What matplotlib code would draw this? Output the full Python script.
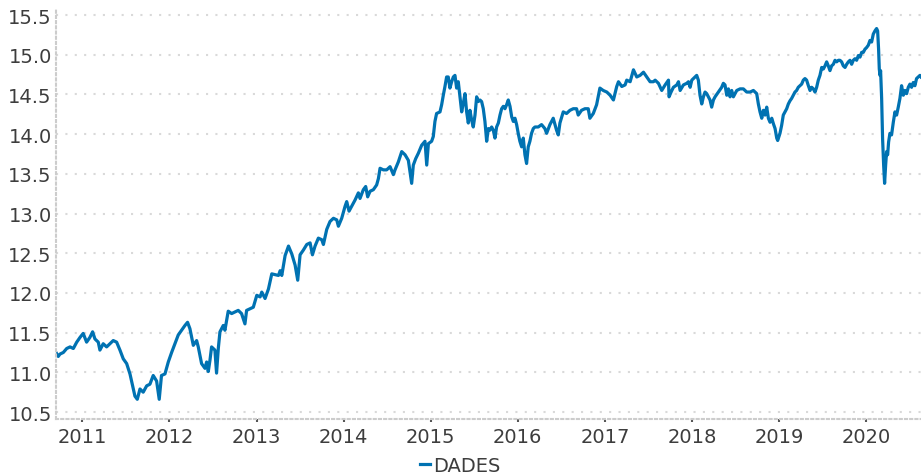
import numpy as np
import pandas as pd
import matplotlib
matplotlib.use("Agg")
import matplotlib.pyplot as plt
import matplotlib.dates as mdates

# decimal-year positions and values, one pair of lists per year
t_2010 = [2010.698, 2010.724, 2010.744, 2010.782, 2010.821, 2010.859, 2010.897, 2010.936, 2010.974]
v_2010 = [11.25, 11.20, 11.23, 11.25, 11.30, 11.32, 11.30, 11.38, 11.44]

t_2011 = [2011.011, 2011.05, 2011.088, 2011.119, 2011.146, 2011.184, 2011.203, 2011.241, 2011.28, 2011.318,
          2011.356, 2011.395, 2011.433, 2011.471, 2011.51, 2011.548, 2011.586, 2011.605, 2011.632, 2011.663,
          2011.70, 2011.74, 2011.777, 2011.815, 2011.854, 2011.884, 2011.91, 2011.95, 2011.988]
v_2011 = [11.49, 11.38, 11.44, 11.51, 11.42, 11.38, 11.28, 11.36, 11.32, 11.36,
          11.40, 11.38, 11.28, 11.17, 11.11, 10.98, 10.79, 10.70, 10.66, 10.79,
          10.75, 10.83, 10.85, 10.96, 10.89, 10.66, 10.96, 10.98, 11.13]

t_2012 = [2012.027, 2012.065, 2012.103, 2012.142, 2012.18, 2012.21, 2012.237, 2012.256, 2012.276, 2012.314,
          2012.333, 2012.371, 2012.41, 2012.429, 2012.448, 2012.467, 2012.486, 2012.524, 2012.543, 2012.563,
          2012.582, 2012.62, 2012.639, 2012.677, 2012.716, 2012.754, 2012.792, 2012.83, 2012.869, 2012.888,
          2012.926, 2012.965]
v_2012 = [11.25, 11.36, 11.47, 11.53, 11.59, 11.63, 11.55, 11.45, 11.34, 11.40,
          11.32, 11.11, 11.05, 11.13, 11.01, 11.15, 11.32, 11.28, 10.99, 11.30,
          11.51, 11.59, 11.53, 11.77, 11.74, 11.76, 11.78, 11.74, 11.61, 11.78,
          11.80, 11.82]

t_2013 = [2013.003, 2013.041, 2013.06, 2013.098, 2013.137, 2013.175, 2013.213, 2013.252, 2013.271, 2013.29,
          2013.328, 2013.367, 2013.405, 2013.443, 2013.473, 2013.50, 2013.538, 2013.577, 2013.615, 2013.642,
          2013.672, 2013.71, 2013.749, 2013.768, 2013.806, 2013.844, 2013.883, 2013.921, 2013.94, 2013.978]
v_2013 = [11.97, 11.95, 12.01, 11.93, 12.05, 12.24, 12.23, 12.22, 12.28, 12.22,
          12.47, 12.59, 12.49, 12.35, 12.16, 12.48, 12.54, 12.61, 12.63, 12.48,
          12.59, 12.69, 12.67, 12.61, 12.80, 12.90, 12.94, 12.92, 12.84, 12.94]

t_2014 = [2014.017, 2014.036, 2014.063, 2014.093, 2014.132, 2014.17, 2014.189, 2014.227, 2014.254, 2014.277,
          2014.304, 2014.342, 2014.38, 2014.40, 2014.419, 2014.457, 2014.495, 2014.534, 2014.572, 2014.591,
          2014.629, 2014.668, 2014.706, 2014.744, 2014.782, 2014.801, 2014.828, 2014.859, 2014.897, 2014.935,
          2014.955, 2014.974]
v_2014 = [13.09, 13.15, 13.03, 13.09, 13.17, 13.26, 13.19, 13.30, 13.34, 13.21,
          13.28, 13.30, 13.36, 13.44, 13.57, 13.55, 13.55, 13.59, 13.49, 13.55,
          13.65, 13.78, 13.74, 13.67, 13.38, 13.61, 13.69, 13.76, 13.86, 13.91,
          13.61, 13.88]

t_2015 = [2015.012, 2015.031, 2015.05, 2015.069, 2015.108, 2015.127, 2015.146, 2015.165, 2015.184, 2015.203,
          2015.222, 2015.242, 2015.261, 2015.28, 2015.299, 2015.318, 2015.337, 2015.357, 2015.376, 2015.395,
          2015.414, 2015.433, 2015.452, 2015.471, 2015.49, 2015.51, 2015.529, 2015.548, 2015.567, 2015.586,
          2015.605, 2015.624, 2015.644, 2015.663, 2015.682, 2015.701, 2015.72, 2015.739, 2015.758, 2015.778,
          2015.797, 2015.816, 2015.835, 2015.854, 2015.873, 2015.892, 2015.912, 2015.931, 2015.95, 2015.969,
          2015.988]
v_2015 = [13.91, 13.97, 14.16, 14.26, 14.28, 14.37, 14.49, 14.60, 14.72, 14.72,
          14.58, 14.66, 14.72, 14.74, 14.58, 14.66, 14.47, 14.28, 14.39, 14.51,
          14.28, 14.14, 14.30, 14.18, 14.09, 14.24, 14.47, 14.41, 14.43, 14.41,
          14.32, 14.16, 13.91, 14.07, 14.05, 14.09, 14.05, 13.95, 14.09, 14.14,
          14.24, 14.32, 14.35, 14.32, 14.37, 14.43, 14.35, 14.22, 14.16, 14.20,
          14.12]

t_2016 = [2016.007, 2016.026, 2016.046, 2016.065, 2016.084, 2016.103, 2016.122, 2016.141, 2016.16, 2016.18,
          2016.199, 2016.237, 2016.275, 2016.313, 2016.333, 2016.371, 2016.409, 2016.447, 2016.467, 2016.486,
          2016.524, 2016.562, 2016.601, 2016.639, 2016.677, 2016.696, 2016.734, 2016.773, 2016.811, 2016.83,
          2016.869, 2016.907, 2016.945, 2016.983]
v_2016 = [14.01, 13.91, 13.84, 13.95, 13.74, 13.63, 13.84, 13.91, 14.01, 14.07,
          14.09, 14.09, 14.12, 14.07, 14.01, 14.12, 14.20, 14.05, 13.99, 14.14,
          14.28, 14.26, 14.30, 14.32, 14.32, 14.24, 14.30, 14.32, 14.32, 14.20,
          14.26, 14.37, 14.58, 14.55]

t_2017 = [2017.022, 2017.06, 2017.098, 2017.136, 2017.156, 2017.194, 2017.232, 2017.251, 2017.29, 2017.328,
          2017.366, 2017.404, 2017.443, 2017.481, 2017.519, 2017.558, 2017.577, 2017.615, 2017.653, 2017.692,
          2017.73, 2017.737, 2017.76, 2017.787, 2017.826, 2017.845, 2017.864, 2017.902, 2017.94, 2017.96,
          2017.979, 2017.998]
v_2017 = [14.53, 14.49, 14.43, 14.60, 14.66, 14.60, 14.62, 14.68, 14.66, 14.81,
          14.72, 14.74, 14.78, 14.72, 14.66, 14.66, 14.68, 14.64, 14.55, 14.62,
          14.68, 14.47, 14.53, 14.59, 14.62, 14.66, 14.55, 14.62, 14.64, 14.66,
          14.59, 14.68]

t_2018 = [2018.036, 2018.055, 2018.074, 2018.093, 2018.113, 2018.132, 2018.151, 2018.17, 2018.189, 2018.208,
          2018.227, 2018.247, 2018.266, 2018.304, 2018.342, 2018.361, 2018.38, 2018.40, 2018.419, 2018.438,
          2018.457, 2018.476, 2018.495, 2018.515, 2018.553, 2018.591, 2018.629, 2018.668, 2018.706, 2018.744,
          2018.763, 2018.782, 2018.802, 2018.821, 2018.84, 2018.859, 2018.878, 2018.897, 2018.917, 2018.936,
          2018.955, 2018.974, 2018.985]
v_2018 = [14.72, 14.74, 14.68, 14.49, 14.38, 14.47, 14.53, 14.51, 14.47, 14.43,
          14.34, 14.43, 14.47, 14.53, 14.59, 14.64, 14.62, 14.49, 14.57, 14.47,
          14.55, 14.47, 14.51, 14.55, 14.57, 14.57, 14.53, 14.53, 14.55, 14.51,
          14.38, 14.28, 14.20, 14.30, 14.24, 14.34, 14.20, 14.15, 14.20, 14.13,
          14.07, 13.95, 13.92]

t_2019 = [2019.012, 2019.031, 2019.05, 2019.069, 2019.089, 2019.108, 2019.127, 2019.146, 2019.165, 2019.184,
          2019.203, 2019.222, 2019.242, 2019.261, 2019.28, 2019.299, 2019.318, 2019.338, 2019.357, 2019.376,
          2019.395, 2019.414, 2019.433, 2019.452, 2019.471, 2019.491, 2019.51, 2019.529, 2019.548, 2019.567,
          2019.586, 2019.605, 2019.625, 2019.644, 2019.663, 2019.682, 2019.701, 2019.72, 2019.739, 2019.759,
          2019.778, 2019.797, 2019.816, 2019.835, 2019.854, 2019.873, 2019.892, 2019.912, 2019.931, 2019.95,
          2019.969, 2019.988]
v_2019 = [14.01, 14.11, 14.24, 14.28, 14.32, 14.38, 14.42, 14.45, 14.49, 14.53,
          14.55, 14.59, 14.61, 14.63, 14.68, 14.70, 14.68, 14.61, 14.55, 14.59,
          14.57, 14.53, 14.59, 14.68, 14.74, 14.84, 14.82, 14.86, 14.91, 14.86,
          14.80, 14.86, 14.88, 14.93, 14.91, 14.93, 14.93, 14.91, 14.86, 14.84,
          14.88, 14.91, 14.93, 14.88, 14.93, 14.95, 14.93, 14.99, 14.97, 15.03,
          15.03, 15.07]

t_2020 = [2020.007, 2020.027, 2020.046, 2020.065, 2020.084, 2020.103, 2020.122, 2020.134, 2020.145, 2020.153,
          2020.161, 2020.168, 2020.18, 2020.191, 2020.203, 2020.214, 2020.226, 2020.237, 2020.249, 2020.26,
          2020.275, 2020.294, 2020.314, 2020.333, 2020.352, 2020.371, 2020.39, 2020.409, 2020.429, 2020.448,
          2020.467, 2020.486, 2020.505, 2020.524, 2020.543, 2020.562, 2020.581, 2020.60, 2020.62, 2020.632]
v_2020 = [15.09, 15.12, 15.18, 15.16, 15.26, 15.30, 15.33, 15.30, 15.07, 14.82,
          14.74, 14.80, 14.45, 13.94, 13.61, 13.38, 13.61, 13.78, 13.74, 13.90,
          14.01, 13.99, 14.15, 14.28, 14.24, 14.34, 14.45, 14.61, 14.49, 14.55,
          14.51, 14.59, 14.63, 14.59, 14.65, 14.61, 14.70, 14.72, 14.74, 14.72]

series_name = "DADES"
y_ticks = [10.5, 11.0, 11.5, 12.0, 12.5, 13.0, 13.5, 14.0, 14.5, 15.0, 15.5]

t_all = t_2010 + t_2011 + t_2012 + t_2013 + t_2014 + t_2015 + t_2016 + t_2017 + t_2018 + t_2019 + t_2020
v_all = v_2010 + v_2011 + v_2012 + v_2013 + v_2014 + v_2015 + v_2016 + v_2017 + v_2018 + v_2019 + v_2020


def to_date(y):
    yr = int(y)
    return pd.Timestamp(yr, 1, 1) + pd.Timedelta(days=(y - yr) * 365.25)


dates = [to_date(y) for y in t_all]

txt = "#3d3d3d"
fig = plt.figure(figsize=(9.21, 4.77), dpi=100)
ax = fig.add_axes([56 / 921, 57 / 477, 1 - 56 / 921, 410 / 477])

ax.plot(dates, v_all, color="#0072b2", lw=2.3, label=series_name, solid_joinstyle="round")

ax.set_xlim(to_date(2010.698), to_date(2020.632))
ax.set_ylim(10.412, 15.576)
ax.set_yticks(y_ticks)
ax.set_yticklabels([f"{v:.1f}" for v in y_ticks])
ax.xaxis.set_major_locator(mdates.YearLocator())
ax.xaxis.set_major_formatter(mdates.DateFormatter("%Y"))

ax.grid(axis="y", color="#d9d9d9", linestyle=(0, (1, 3.5)), linewidth=1.5)
ax.set_axisbelow(True)
for s in ["top", "right"]:
    ax.spines[s].set_visible(False)
for s in ["left", "bottom"]:
    ax.spines[s].set_color("#cccccc")
    ax.spines[s].set_linestyle((0, (1, 1.5)))
    ax.spines[s].set_linewidth(1.5)

ax.tick_params(axis="y", length=0, pad=3, labelsize=14, labelcolor=txt)
ax.tick_params(axis="x", length=2, width=1.5, color="#555555", pad=4, labelsize=14, labelcolor=txt)

leg = fig.legend(loc="lower center", bbox_to_anchor=(0.5, -0.035), frameon=False, fontsize=14,
                 handlelength=0.5, handletextpad=0.15, labelcolor=txt)

fig.savefig("out.png", dpi=100)
